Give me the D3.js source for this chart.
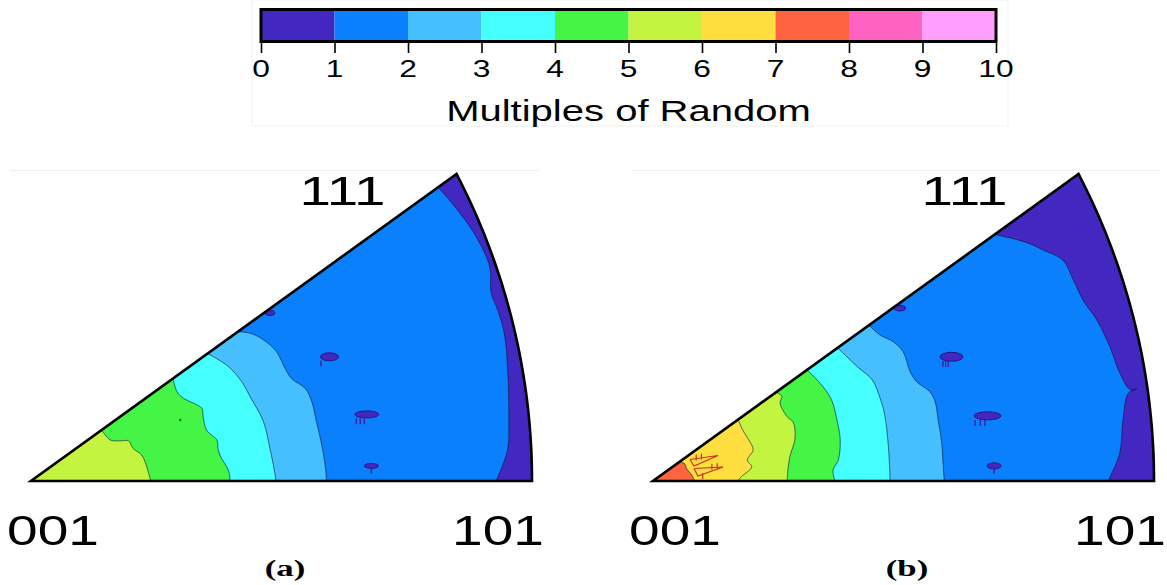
<!DOCTYPE html>
<html>
<head>
<meta charset="utf-8">
<script src="https://cdn.jsdelivr.net/npm/d3@7"></script>
<style>
  html, body { margin: 0; padding: 0; background: #fff; }
  svg { display: block; }
</style>
</head>
<body>
<svg id="chart" width="1167" height="585"></svg>
<script>
// ---- colour scale (multiples of random density) ----
const mrdLevels = [0, 1, 2, 3, 4, 5, 6, 7, 8, 9, 10];
const mrdColors = ["#4228c0", "#0a80fc", "#45bffe", "#45fefe", "#45f545",
                   "#c3f540", "#ffdf40", "#ff6340", "#ff63c1", "#ff9ffd"];
const tickLabels = ["0", "1", "2", "3", "4", "5", "6", "7", "8", "9", "10"];
const scaleTitle = "Multiples of Random";
const cornerLabels = ["001", "101", "111"];
const panelNames = ["(a)", "(b)"];

// ---- iso-density lines, equal-area projected coordinates [x, y] ----
// each line runs from the 001-111 edge down to the 001-101 edge;
// isoAk / isoBk separates density band k-1..k (outside) from k..k+1 (inside)
const isoA1 = [[0.622,0.622],[0.639,0.595],[0.663,0.553],[0.683,0.510],[0.701,0.453],[0.703,0.398],
               [0.713,0.362],[0.723,0.313],[0.728,0.241],[0.730,0.129],[0.728,0.066],[0.713,0.008],[0.710,0]];
const isoA2 = [[0.316,0.316],[0.335,0.313],[0.355,0.299],[0.375,0.274],[0.388,0.239],[0.398,0.217],
               [0.419,0.196],[0.429,0.168],[0.436,0.126],[0.441,0.097],[0.447,0.055],[0.451,0.013],[0.451,0]];
const isoA3 = [[0.270,0.270],[0.301,0.243],[0.322,0.210],[0.335,0.178],[0.355,0.126],[0.365,0.069],
               [0.373,0.013],[0.374,0]];
const isoA4 = [[0.217,0.217],[0.223,0.189],[0.233,0.175],[0.248,0.165],[0.261,0.154],[0.263,0.136],
               [0.268,0.108],[0.276,0.097],[0.284,0.087],[0.286,0.066],[0.291,0.048],[0.299,0.030],
               [0.303,0.016],[0.304,0]];
const isoA5 = [[0.108,0.108],[0.121,0.087],[0.136,0.085],[0.149,0.085],[0.156,0.069],[0.169,0.055],
               [0.176,0.034],[0.179,0.020],[0.183,0]];

const isoB1 = [[0.522,0.522],[0.559,0.510],[0.580,0.500],[0.596,0.489],[0.626,0.468],[0.642,0.426],
               [0.657,0.383],[0.678,0.341],[0.698,0.284],[0.713,0.229],[0.729,0.193],[0.739,0.195],
               [0.726,0.186],[0.718,0.129],[0.713,0.059],[0.698,0.008],[0.695,0]];
const isoB2 = [[0.330,0.330],[0.347,0.309],[0.367,0.295],[0.382,0.274],[0.393,0.231],[0.403,0.210],
               [0.423,0.189],[0.431,0.168],[0.436,0.126],[0.441,0.083],[0.443,0.040],[0.445,0]];
const isoB3 = [[0.282,0.282],[0.313,0.241],[0.335,0.214],[0.347,0.175],[0.354,0.140],[0.359,0.083],
               [0.362,0.013],[0.362,0]];
const isoB4 = [[0.235,0.235],[0.243,0.225],[0.260,0.199],[0.273,0.171],[0.281,0.129],[0.286,0.087],
               [0.283,0.044],[0.275,0.023],[0.278,0]];
const isoB5 = [[0.188,0.188],[0.197,0.180],[0.194,0.165],[0.205,0.136],[0.214,0.125],[0.217,0.091],
               [0.209,0.051],[0.206,0.023],[0.205,0]];
const isoB6 = [[0.130,0.130],[0.137,0.108],[0.148,0.083],[0.153,0.066],[0.144,0.044],[0.151,0.030],
               [0.134,0.008],[0.130,0]];
const isoB7 = [[0.040,0.040],[0.048,0.037],[0.051,0.027],[0.059,0.013],[0.064,0]];

// small low-density islands [x, y, rx, ry]
const lowSpotsA = [[0.365,0.356,0.0076,0.0053],[0.456,0.263,0.0138,0.0085],
                   [0.513,0.141,0.0183,0.0074],[0.520,0.032,0.0107,0.0053]];
const lowSpotsB = [[0.377,0.366,0.0090,0.0060],[0.456,0.263,0.0176,0.0095],
                   [0.511,0.138,0.0206,0.0085],[0.521,0.032,0.0107,0.0064]];
// short hatch strokes hanging under the islands [x, y]
const spotTicksA = [[0.443,0.255],[0.497,0.133],[0.503,0.133],[0.509,0.133],[0.520,0.028]];
const spotTicksB = [[0.443,0.254],[0.447,0.254],[0.451,0.254],[0.492,0.129],[0.500,0.129],
                    [0.507,0.129],[0.521,0.028]];
// tiny closed iso-loops near the 001 peak
const peakLoopsB = [
  [[0.0565,0.0455],[0.0993,0.054],[0.0626,0.0318],[0.0565,0.0455]],
  [[0.0626,0.0265],[0.107,0.0296],[0.0687,0.0106],[0.0626,0.0265]]
];
const peakTicksB = [[0.066,0.050],[0.074,0.052],[0.090,0.030],[0.098,0.031],[0.076,0.010]];
const specksA = [[0.228,0.129]];

// ---- projection geometry ----
function eqArea(v) {
  const n = Math.hypot(v[0], v[1], v[2]);
  const c = v[2] / n;
  const r = Math.sqrt(2 * (1 - c));
  const phi = Math.atan2(v[1], v[0]);
  return [r * Math.cos(phi), r * Math.sin(phi)];
}
const p101 = eqArea([1, 0, 1]);
const p111 = eqArea([1, 1, 1]);
// great circle 101 -> 111
const rim = d3.range(0, 1.0001, 0.02).map(t => eqArea([1, t, 1]));

const svg = d3.select("#chart");
const FONT = "'Liberation Sans', Arial, Helvetica, sans-serif";
const SX = 1.38;

function label(sel, str, x, y, size, opts = {}) {
  return sel.append("text")
    .attr("transform", `translate(${x},${y}) scale(${opts.sx || SX},1)`)
    .attr("text-anchor", "middle")
    .attr("font-family", opts.family || FONT)
    .attr("font-weight", opts.weight || "normal")
    .attr("font-size", size)
    .attr("fill", "#000")
    .text(str);
}

// ---- colour bar ----
const cb = svg.append("g");
cb.append("rect").attr("x", 252).attr("y", 0).attr("width", 756).attr("height", 126)
  .attr("fill", "none").attr("stroke", "#f1f1f1");
const cx = d3.scaleLinear().domain([mrdLevels[0], mrdLevels[mrdLevels.length - 1]]).range([261, 996]);
cb.selectAll("rect.band").data(mrdColors).join("rect")
  .attr("class", "band")
  .attr("x", (d, i) => cx(mrdLevels[i]))
  .attr("width", (d, i) => cx(mrdLevels[i + 1]) - cx(mrdLevels[i]))
  .attr("y", 9.5).attr("height", 32)
  .attr("fill", d => d);
cb.append("rect").attr("x", cx(0)).attr("y", 9.5)
  .attr("width", cx(10) - cx(0)).attr("height", 32)
  .attr("fill", "none").attr("stroke", "#000").attr("stroke-width", 3);
const axis = d3.axisBottom(cx).tickValues(mrdLevels).tickSize(10).tickFormat("");
const ag = cb.append("g").attr("transform", "translate(0,43)").call(axis);
ag.select(".domain").remove();
ag.selectAll(".tick line").attr("stroke", "#000").attr("stroke-width", 1.6);
tickLabels.forEach((t, i) => label(cb, t, cx(mrdLevels[i]), 77, 23));
label(cb, scaleTitle, (cx(0) + cx(10)) / 2, 121, 29);

// ---- pole figure panels ----
const yS = d3.scaleLinear().domain([0, p111[1]]).range([481, 174]);
const panels = [
  { left: 31,  iso: [isoA1, isoA2, isoA3, isoA4, isoA5], spots: lowSpotsA, ticks: spotTicksA,
    loops: [], loopTicks: [], specks: specksA, name: panelNames[0] },
  { left: 653, iso: [isoB1, isoB2, isoB3, isoB4, isoB5, isoB6, isoB7], spots: lowSpotsB, ticks: spotTicksB,
    loops: peakLoopsB, loopTicks: peakTicksB, specks: [], name: panelNames[1] }
];

panels.forEach((p, pi) => {
  const xS = d3.scaleLinear().domain([0, p101[0]]).range([p.left, p.left + 501]);
  const g = svg.append("g");
  const px = d => xS(d[0]), py = d => yS(d[1]);
  const lin = d3.line().x(px).y(py);
  const smooth = d3.line().x(px).y(py).curve(d3.curveCatmullRom.alpha(0.5));
  const outline = lin([[0, 0], ...rim]) + "Z";

  // faint panel frame
  g.append("line").attr("x1", p.left - 21).attr("x2", p.left + 508)
    .attr("y1", 170.5).attr("y2", 170.5).attr("stroke", "#f0f0f0");

  const clipId = "clip" + pi;
  g.append("clipPath").attr("id", clipId).append("path").attr("d", outline);
  const body = g.append("g").attr("clip-path", `url(#${clipId})`);

  // lowest band fills the whole sector
  body.append("path").attr("d", outline).attr("fill", mrdColors[0]);

  // each higher band fills everything inside its iso-line
  p.iso.forEach((pts, k) => {
    const first = pts[0], last = pts[pts.length - 1];
    const d = "M" + xS(0) + "," + yS(0) +
      "L" + xS(first[0]) + "," + yS(first[0] + 0.06) +
      smooth(pts).replace(/^M/, "L") +
      "L" + xS(last[0]) + "," + yS(-0.06) + "Z";
    body.append("path").attr("d", d).attr("fill", mrdColors[k + 1]);
  });
  p.iso.forEach(pts => {
    body.append("path").attr("d", smooth(pts)).attr("fill", "none")
      .attr("stroke", "rgba(10,20,50,0.6)").attr("stroke-width", 1);
  });

  // low-density islands
  body.selectAll("ellipse.spot").data(p.spots).join("ellipse")
    .attr("class", "spot")
    .attr("cx", d => xS(d[0])).attr("cy", d => yS(d[1]))
    .attr("rx", d => xS(d[2]) - xS(0)).attr("ry", d => yS(0) - yS(d[3]))
    .attr("fill", mrdColors[0]).attr("stroke", "#2a1680").attr("stroke-width", 1);
  body.selectAll("line.tick").data(p.ticks).join("line")
    .attr("x1", px).attr("x2", px).attr("y1", py).attr("y2", d => py(d) + 6)
    .attr("stroke", "#3a22a8").attr("stroke-width", 1.4);
  body.selectAll("circle.speck").data(p.specks).join("circle")
    .attr("cx", px).attr("cy", py).attr("r", 1.3).attr("fill", "#1f5a20");

  // peak loops
  p.loops.forEach(pts => {
    body.append("path").attr("d", lin(pts)).attr("fill", "none")
      .attr("stroke", "#c8301e").attr("stroke-width", 1.2);
  });
  body.selectAll("line.ptick").data(p.loopTicks).join("line")
    .attr("x1", px).attr("x2", px).attr("y1", d => py(d) - 3).attr("y2", d => py(d) + 3)
    .attr("stroke", "#c8301e").attr("stroke-width", 1.2);

  // sector outline
  g.append("path").attr("d", outline).attr("fill", "none")
    .attr("stroke", "#000").attr("stroke-width", 2.6).attr("stroke-linejoin", "miter");

  // pole labels
  label(g, cornerLabels[0], xS(0) + 22, 545, 42, { sx: 1.31 });
  label(g, cornerLabels[1], xS(p101[0]) - 34, 545, 42, { sx: 1.31 });
  label(g, cornerLabels[2], xS(p111[0]) - 114, 205, 41);
  label(g, p.name, p.left + 254, 576, 24, { family: "'Liberation Serif', 'Times New Roman', serif", weight: "bold", sx: 1.45 });
});
</script>
</body>
</html>
